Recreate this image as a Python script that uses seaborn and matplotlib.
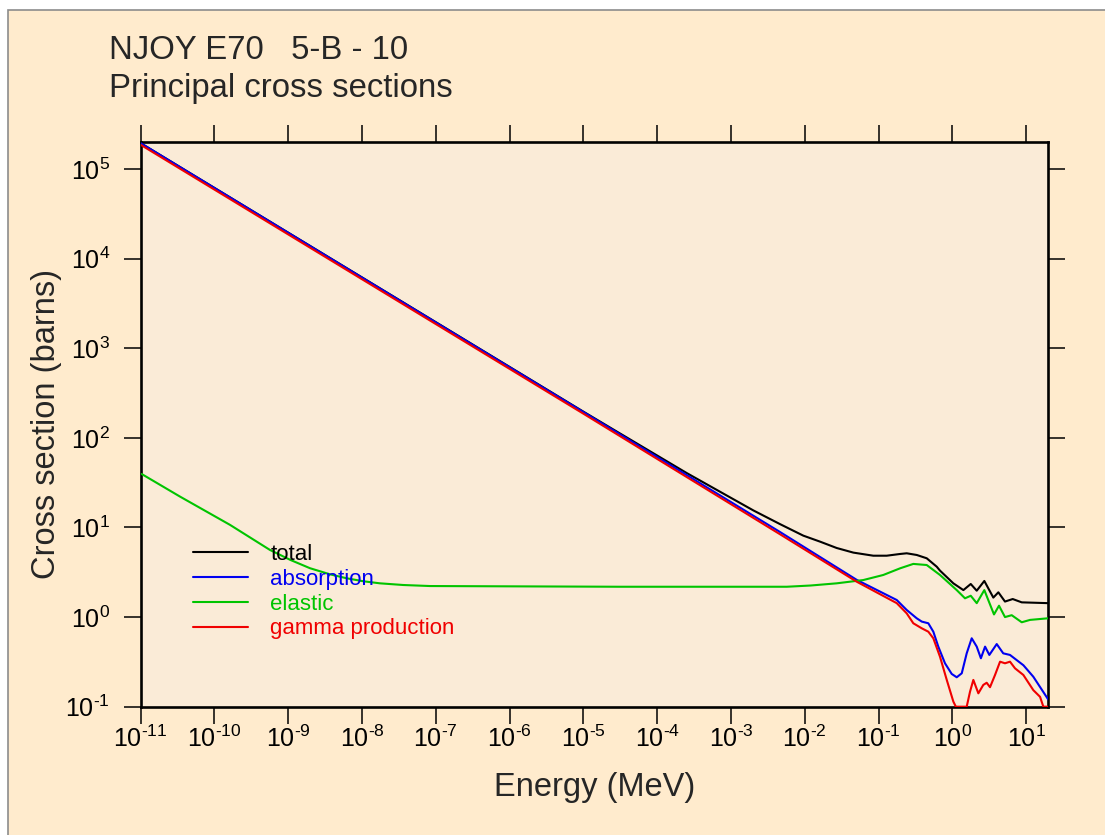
import math
import matplotlib
matplotlib.use("Agg")
import matplotlib.pyplot as plt
import pandas as pd
import seaborn as sns
from matplotlib.patches import Rectangle
from matplotlib.ticker import LogLocator, NullLocator, FuncFormatter

# ---- B-10 principal cross sections (energy in MeV, cross section in barns) ----
total_energy = [1e-11, 1e-5, 3.13e-5, 2.51e-4, 2.01e-3, 4.62e-3, 9.57e-3, 0.0161,
                0.0271, 0.0456, 0.0849, 0.129, 0.196, 0.241, 0.33, 0.450, 0.615,
                0.681, 1.033, 1.413, 1.778, 2.143, 2.716, 3.597, 4.207, 5.176,
                6.59, 8.73, 20.0]
total_xs = [1.94e5, 196.0, 112.0, 40.5, 15.5, 10.9, 8.1, 6.95,
            5.9, 5.24, 4.84, 4.84, 5.06, 5.15, 4.93, 4.53, 3.65,
            3.3, 2.38, 2.0, 2.34, 1.97, 2.53, 1.65, 1.89, 1.49,
            1.59, 1.46, 1.43]

absorption_energy = [1e-11, 1e-5, 4.62e-3, 0.0507, 0.1766, 0.241, 0.329, 0.386,
                     0.473, 0.553, 0.646, 0.796, 0.982, 1.148, 1.343, 1.567,
                     1.832, 2.143, 2.44, 2.780, 3.177, 4.0, 4.9, 6.05, 9.2,
                     12.53, 20.0]
absorption_xs = [1.94e5, 194.0, 8.9, 2.6, 1.55, 1.2, 0.97, 0.89,
                 0.853, 0.687, 0.468, 0.305, 0.232, 0.213, 0.236, 0.394,
                 0.58, 0.468, 0.347, 0.468, 0.378, 0.50, 0.394, 0.378, 0.29,
                 0.216, 0.12]

elastic_energy = [1.03e-11, 3.41e-11, 1.62e-10, 5.65e-10, 1.07e-9, 1.97e-9, 3.68e-9,
                  6.19e-9, 1.04e-8, 1.75e-8, 3.62e-8, 8.34e-8, 3.13e-5, 5.70e-3,
                  0.012, 0.0271, 0.0622, 0.116, 0.196, 0.296, 0.450, 0.681, 1.148,
                  1.486, 1.778, 2.143, 2.716, 3.673, 4.295, 5.176, 6.383, 8.73,
                  11.3, 20.0]
elastic_xs = [39.5, 22.1, 10.7, 5.61, 4.34, 3.51, 3.0,
              2.71, 2.51, 2.38, 2.28, 2.22, 2.18, 2.18,
              2.25, 2.38, 2.59, 2.95, 3.5, 3.92, 3.81, 2.95, 2.0,
              1.62, 1.73, 1.43, 2.0, 1.07, 1.34, 1.0, 1.05, 0.875,
              0.93, 0.97]

gamma_energy = [1e-11, 1e-5, 4.62e-3, 0.0507, 0.1766, 0.241, 0.296, 0.385,
                0.473, 0.553, 0.681, 0.841, 1.033, 1.117, 1.567, 1.738, 1.928,
                2.254, 2.63, 2.924, 3.243, 3.793, 4.436, 5.176, 6.053, 7.079,
                9.183, 12.53, 15.45, 17.14, 20.0]
gamma_xs = [1.86e5, 186.0, 8.4, 2.48, 1.43, 1.10, 0.853, 0.75,
            0.687, 0.58, 0.361, 0.199, 0.114, 0.1, 0.1, 0.147, 0.199,
            0.141, 0.175, 0.185, 0.165, 0.226, 0.318, 0.305, 0.318, 0.268,
            0.226, 0.153, 0.129, 0.1, 0.1]

reactions = ["total", "absorption", "elastic", "gamma production"]
reaction_colors = ["#000000", "#0000f0", "#00c400", "#f00000"]

series = {
    "total": (total_energy, total_xs),
    "absorption": (absorption_energy, absorption_xs),
    "elastic": (elastic_energy, elastic_xs),
    "gamma production": (gamma_energy, gamma_xs),
}
frames = [pd.DataFrame({"energy": e, "xs": s, "reaction": name})
          for name, (e, s) in series.items()]
data = pd.concat(frames, ignore_index=True)

# ---- style ----
sns.set_style("ticks")
plt.rcParams["font.family"] = ["Liberation Sans", "DejaVu Sans"]
plt.rcParams["mathtext.fontset"] = "custom"
plt.rcParams["mathtext.rm"] = "Liberation Sans"
plt.rcParams["mathtext.it"] = "Liberation Sans"
plt.rcParams["mathtext.default"] = "regular"

fig = plt.figure(figsize=(11.05, 8.35), dpi=100, facecolor="white")
# page panel with a thin grey frame
fig.patches.append(Rectangle((8 / 1105, -0.05), 1.2, 1.05 - 10 / 835,
                             transform=fig.transFigure, facecolor="#FFEBCD",
                             edgecolor="#8c8c8c", linewidth=1.2, zorder=-10))

ax = fig.add_axes([140.7 / 1105, 1 - 706.7 / 835, 907.6 / 1105, 564.7 / 835])
ax.set_facecolor("#FAEBD7")

sns.lineplot(data=data, x="energy", y="xs", hue="reaction", hue_order=reactions,
             palette=dict(zip(reactions, reaction_colors)), estimator=None,
             linewidth=1.5, ax=ax, zorder=3)

ax.set_xscale("log")
ax.set_yscale("log")
ax.set_xlim(1e-11, 20)
ax.set_ylim(0.1, 2e5)


def decade_label(value, pos):
    exponent = round(math.log10(value))
    if exponent < 0:
        return r"$10^{\text{-}%d}$" % (-exponent)
    return r"$10^{%d}$" % exponent


ax.xaxis.set_major_locator(LogLocator(base=10, numticks=30))
ax.yaxis.set_major_locator(LogLocator(base=10, numticks=30))
ax.xaxis.set_minor_locator(NullLocator())
ax.yaxis.set_minor_locator(NullLocator())
ax.xaxis.set_major_formatter(FuncFormatter(decade_label))
ax.yaxis.set_major_formatter(FuncFormatter(decade_label))

for side in ["left", "right", "top", "bottom"]:
    ax.spines[side].set_visible(True)
    ax.spines[side].set_linewidth(1.9)
    ax.spines[side].set_color("black")

ax.tick_params(axis="both", which="major", direction="out", length=12, width=1.1,
               top=True, right=True, labeltop=False, labelright=False,
               labelsize=18, colors="black")
ax.tick_params(axis="x", pad=1.5)
ax.tick_params(axis="y", pad=10)

ax.set_xlabel("Energy (MeV)", fontsize=23.5, va="baseline")
ax.xaxis.set_label_coords(0.5, -(796 - 706.7) / 564.7)
ax.set_ylabel("Cross section (barns)", fontsize=23.5, va="baseline")
ax.yaxis.set_label_coords(-(140.7 - 55) / 907.6, 0.5)

handles, labels = ax.get_legend_handles_labels()
ax.legend(handles, labels, loc="upper left", bbox_to_anchor=(0.0573, 0.288),
          frameon=False, fontsize=16, handlelength=2.5, handletextpad=1.0,
          labelspacing=0.17, borderpad=0, borderaxespad=0, labelcolor="linecolor")

fig.text(109 / 1105, 1 - 59 / 835, "NJOY E70   5-B - 10", fontsize=23.7, va="baseline")
fig.text(109 / 1105, 1 - 97 / 835, "Principal cross sections", fontsize=23.7, va="baseline")

fig.savefig("out.png", dpi=100, facecolor=fig.get_facecolor())
